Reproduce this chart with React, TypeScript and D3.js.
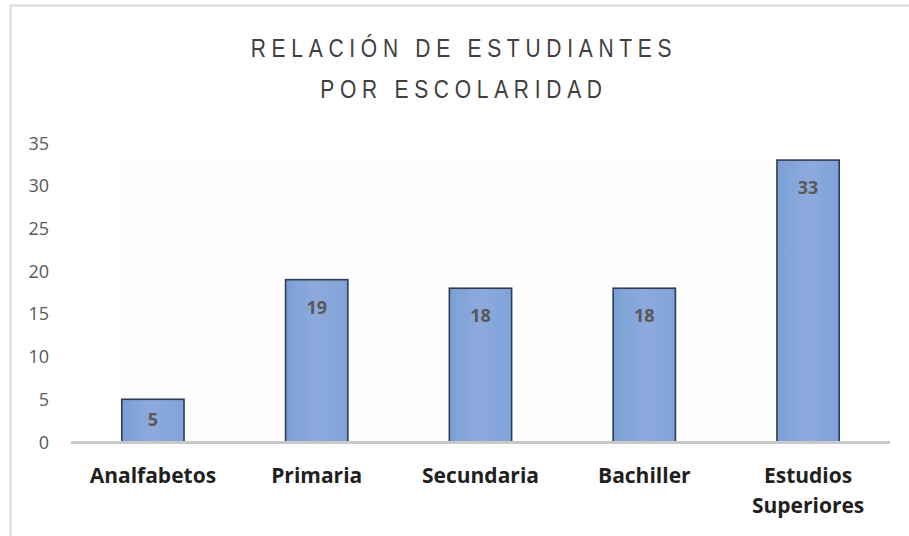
import React from "react";
import * as d3 from "d3";

const categories: string[][] = [["Analfabetos"], ["Primaria"], ["Secundaria"], ["Bachiller"], ["Estudios", "Superiores"]];
const values: number[] = [5, 19, 18, 18, 33];
const yTicks: number[] = [0, 5, 10, 15, 20, 25, 30, 35];
const titleLines: string[] = ["RELACIÓN DE ESTUDIANTES", "POR ESCOLARIDAD"];

const W = 909;
const H = 536;

export default function App() {
  const x = d3
    .scaleBand<number>()
    .domain(values.map((_, i) => i))
    .range([71, 890])
    .paddingInner(0.62)
    .paddingOuter(0.31);
  const y = d3.scaleLinear().domain([0, 35]).range([442, 143]);
  const bw = x.bandwidth();

  return (
    <svg
      width={W}
      height={H}
      style={{ position: "absolute", left: 0, top: 0, display: "block", background: "#fff" }}
    >
      <defs>
        <linearGradient id="barGrad" x1="0" x2="1" y1="0" y2="0">
          <stop offset="0%" stopColor="#7aa0d7" />
          <stop offset="50%" stopColor="#8eaadc" />
          <stop offset="100%" stopColor="#7ea3d9" />
        </linearGradient>
      </defs>
      {/* outer border */}
      <path d={`M10.5,${H} V5.5 H${W}`} fill="none" stroke="#d9d9d9" strokeWidth={2} />
      {/* faint plot area */}
      <rect x={x(0)!} y={y(33)} width={x(4)! + bw - x(0)!} height={y(0) - y(33)} fill="#fdfdfd" />
      {/* title */}
      {titleLines.map((t, i) => (
        <text
          key={i}
          transform={`translate(464,${57 + i * 41}) scale(0.84,1)`}
          textAnchor="middle"
          fontFamily="'Liberation Sans', sans-serif"
          fontSize={25}
          letterSpacing={6.8}
          fill="#404040"
        >
          {t}
        </text>
      ))}
      {/* y ticks */}
      {yTicks.map((t) => (
        <text
          key={t}
          x={49}
          y={y(t) + 6.5}
          textAnchor="end"
          fontFamily="'Open Sans', sans-serif"
          fontSize={18}
          fill="#595959"
        >
          {t}
        </text>
      ))}
      {/* bars */}
      {values.map((v, i) => (
        <g key={i}>
          <rect
            x={x(i)!}
            y={y(v)}
            width={bw}
            height={y(0) - y(v)}
            fill="url(#barGrad)"
            stroke="#2e3c52"
            strokeWidth={1.6}
          />
          <text
            x={x(i)! + bw / 2}
            y={Math.min(y(v) + 34, (y(v) + y(0)) / 2 + 5)}
            textAnchor="middle"
            fontFamily="'Open Sans', sans-serif"
            fontWeight="bold"
            fontSize={18}
            fill="#595959"
          >
            {v}
          </text>
        </g>
      ))}
      {/* baseline */}
      <line x1={71} x2={890} y1={y(0) + 0.5} y2={y(0) + 0.5} stroke="#c8c8c8" strokeWidth={3} />
      {/* category labels */}
      {categories.map((lines, i) => (
        <text
          key={i}
          x={x(i)! + bw / 2}
          textAnchor="middle"
          fontFamily="'Open Sans', sans-serif"
          fontWeight="bold"
          fontSize={21}
          fill="#1f1f1f"
        >
          {lines.map((l, j) => (
            <tspan key={j} x={x(i)! + bw / 2} y={483 + j * 30}>
              {l}
            </tspan>
          ))}
        </text>
      ))}
    </svg>
  );
}
